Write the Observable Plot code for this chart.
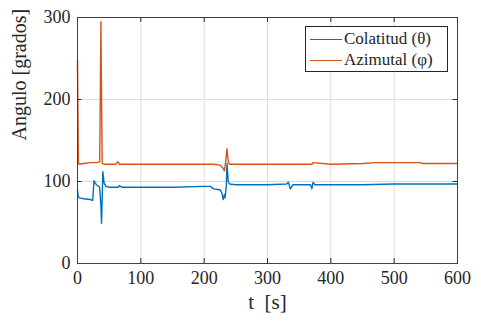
<!DOCTYPE html>
<html>
<head>
<meta charset="utf-8">
<script src="https://cdn.jsdelivr.net/npm/d3@7"></script>
<script src="https://cdn.jsdelivr.net/npm/@observablehq/plot@0.6"></script>
</head>
<body style="margin:0;background:#fff">
<div id="wrap" style="position:relative;width:481px;height:326px;font-family:'Liberation Serif', 'Times New Roman', 'Noto Serif CJK SC', serif">
  <div id="chart"></div>
  <div id="legend" style="position:absolute;left:305px;top:26px;width:143px;height:46px;border:1px solid #262626;background:#fff;box-sizing:border-box;font-family:'Liberation Serif', 'Times New Roman', 'Noto Serif CJK SC', serif;font-size:17px;color:#262626">
    <div style="position:absolute;left:0;top:2px;height:20px;display:flex;align-items:center;white-space:nowrap"><span id="sw0" style="display:inline-block;width:32px;height:0;border-top:1.4px solid #0072BD;margin-left:4px;margin-right:2px"></span><span id="lab0">Colatitud (θ)</span></div>
    <div style="position:absolute;left:0;top:23px;height:20px;display:flex;align-items:center;white-space:nowrap"><span id="sw1" style="display:inline-block;width:32px;height:0;border-top:1.4px solid #D95319;margin-left:4px;margin-right:2px"></span><span id="lab1">Azimutal (φ)</span></div>
  </div>
</div>
<script>
const seriesNames = ["Colatitud (θ)", "Azimutal (φ)"];
const seriesColors = ["#0072BD", "#D95319"];

const tTheta = [0, 1, 3, 10, 20, 24, 26, 28, 30, 35, 37, 38, 39, 40, 42, 45, 50, 60, 64, 66, 70, 100, 150, 200, 210, 215, 225, 228, 230, 232, 233, 235, 236, 238, 240, 250, 300, 330, 333, 336, 340, 350, 368, 370, 372, 375, 400, 450, 500, 550, 600];
const theta  = [90, 82, 80, 79, 78, 77, 101, 98, 96, 93, 70, 49, 80, 112, 98, 94, 93, 93, 93, 95, 93, 93, 93, 94, 94, 91, 90, 86, 78, 84, 80, 95, 122, 100, 97, 96, 96, 97, 99, 91, 96, 96, 96, 91, 99, 96, 96, 96, 97, 97, 97];

const tPhi = [0, 0.5, 1.5, 3, 10, 20, 25, 30, 35, 36, 37, 38, 39, 42, 50, 60, 64, 66, 70, 100, 150, 200, 215, 225, 230, 232, 234, 236, 238, 240, 250, 300, 350, 370, 372, 400, 450, 470, 500, 540, 545, 600];
const phi  = [248, 200, 122, 121, 122, 123, 123, 123, 124, 200, 295, 200, 122, 121, 121, 121, 124, 121, 121, 121, 121, 121, 121, 120, 116, 113, 125, 140, 124, 121, 121, 121, 121, 121, 123, 121, 122, 123, 123, 123, 122, 122];

const xTicks = [0, 100, 200, 300, 400, 500, 600];
const yTicks = [0, 100, 200, 300];
const xLabel = "t  [s]";
const yLabel = "Angulo [grados]";

const dTheta = tTheta.map((t, i) => ({t, v: theta[i]}));
const dPhi = tPhi.map((t, i) => ({t, v: phi[i]}));

const font = "'Liberation Serif', 'Times New Roman', 'Noto Serif CJK SC', serif";
const ink = "#262626";

const chart = Plot.plot({
  width: 481,
  height: 326,
  marginLeft: 77,
  marginRight: 24,
  marginTop: 17,
  marginBottom: 63,
  style: { fontFamily: font, fontSize: "18px", color: ink, background: "#fff" },
  x: { domain: [0, 600] },
  y: { domain: [0, 300] },
  marks: [
    Plot.gridX(xTicks.slice(1, -1), { stroke: "#dcdcdc", strokeOpacity: 1 }),
    Plot.gridY(yTicks.slice(1, -1), { stroke: "#dcdcdc", strokeOpacity: 1 }),
    Plot.line(dPhi, { x: "t", y: "v", stroke: seriesColors[1], strokeWidth: 1.4 }),
    Plot.line(dTheta, { x: "t", y: "v", stroke: seriesColors[0], strokeWidth: 1.4 }),
    Plot.ruleX(xTicks, { x: d => d, y1: 0, y2: 6, stroke: ink }),
    Plot.ruleX(xTicks, { x: d => d, y1: 294, y2: 300, stroke: ink }),
    Plot.ruleY(yTicks, { y: d => d, x1: 0, x2: 7, stroke: ink }),
    Plot.ruleY(yTicks, { y: d => d, x1: 593, x2: 600, stroke: ink }),
    Plot.frame({ stroke: "#404040", strokeWidth: 1 }),
    Plot.axisX(xTicks, { tickSize: 0, tickPadding: 8, label: null, fontSize: 18, fill: ink }),
    Plot.axisY(yTicks, { tickSize: 0, tickPadding: 7, label: null, fontSize: 18, fill: ink }),
    Plot.text([xLabel], { frameAnchor: "bottom", dy: 45, fontSize: 21, fill: ink, text: d => d }),
    Plot.text([yLabel], { frameAnchor: "left", dx: -58, rotate: -90, fontSize: 20, fill: ink, text: d => d })
  ]
});
document.getElementById("chart").appendChild(chart);

seriesNames.forEach((name, i) => {
  document.getElementById("lab" + i).textContent = name;
  document.getElementById("sw" + i).style.borderTopColor = seriesColors[i];
});
</script>
</body>
</html>
